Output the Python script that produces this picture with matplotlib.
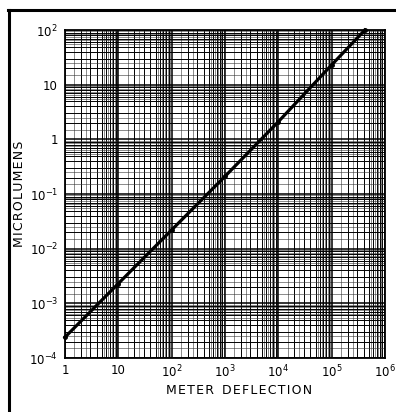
import numpy as np
import matplotlib.pyplot as plt
from matplotlib.lines import Line2D

# Данные калибровки
deflection = [1, 10, 100, 1e3, 1e4, 1e5, 4.2e5]
microlumens = [2.4e-4, 2.3e-3, 2.2e-2, 0.21, 2.1, 23, 100]

x_ticks = [1, 10, 1e2, 1e3, 1e4, 1e5, 1e6]
x_labels = ['1', '10', r'$10^{2}$', r'$10^{3}$', r'$10^{4}$', r'$10^{5}$', r'$10^{6}$']
y_ticks = [1e-4, 1e-3, 1e-2, 1e-1, 1, 10, 100]
y_labels = [r'$10^{-4}$', r'$10^{-3}$', r'$10^{-2}$', r'$10^{-1}$', '1', '10', r'$10^{2}$']

# Деления логарифмической бумаги внутри декады
sub_medium = [2, 3, 4, 5, 6, 7, 8, 9]
sub_fine = [1.5, 2.5, 5.5, 6.5, 7.5, 8.5, 9.5]

fig = plt.figure(figsize=(3.96, 4.12), dpi=100)
ax = fig.add_axes([0.164, 0.131, 0.808, 0.796])
ax.set_xscale('log')
ax.set_yscale('log')
ax.set_xlim(1, 1e6)
ax.set_ylim(1e-4, 1e2)

# Сетка
for d in range(6):
    base = 10.0 ** d
    for s in sub_fine:
        ax.axvline(base * s, color='#333333', lw=0.4, zorder=1)
    for s in sub_medium:
        ax.axvline(base * s, color='black', lw=0.7, zorder=1)
for d in range(-4, 2):
    base = 10.0 ** d
    for s in sub_fine:
        ax.axhline(base * s, color='#333333', lw=0.4, zorder=1)
    for s in sub_medium:
        ax.axhline(base * s, color='black', lw=0.7, zorder=1)
for t in x_ticks:
    ax.axvline(t, color='black', lw=1.1, zorder=1)
for t in y_ticks:
    ax.axhline(t, color='black', lw=1.1, zorder=1)

# Калибровочная прямая
ax.plot(deflection, microlumens, color='black', lw=2.3, zorder=3,
        marker='o', markersize=2.5, clip_on=False)

ax.set_xticks(x_ticks)
ax.set_xticklabels(x_labels)
ax.set_yticks(y_ticks)
ax.set_yticklabels(y_labels)
ax.minorticks_off()
ax.tick_params(length=0, labelsize=8.5)
ax.tick_params(axis='y', pad=5)
ax.tick_params(axis='x', pad=4)
for s in ax.spines.values():
    s.set_linewidth(1.3)

hs = '\u200a'
ax.set_xlabel(hs.join('METER') + '  ' + hs.join('DEFLECTION'), fontsize=9)
ax.set_ylabel(hs.join('MICROLUMENS'), fontsize=9)
ax.xaxis.set_label_coords(0.544, -0.080)
ax.yaxis.set_label_coords(-0.122, 0.50)

# Рамка страницы
fig.add_artist(Line2D([8 / 396, 1.0], [1 - 10 / 412, 1 - 10 / 412], color='black', lw=2.2))
fig.add_artist(Line2D([9 / 396, 9 / 396], [0.0, 1 - 10 / 412], color='black', lw=2.2))

fig.savefig('out.png', dpi=100)
